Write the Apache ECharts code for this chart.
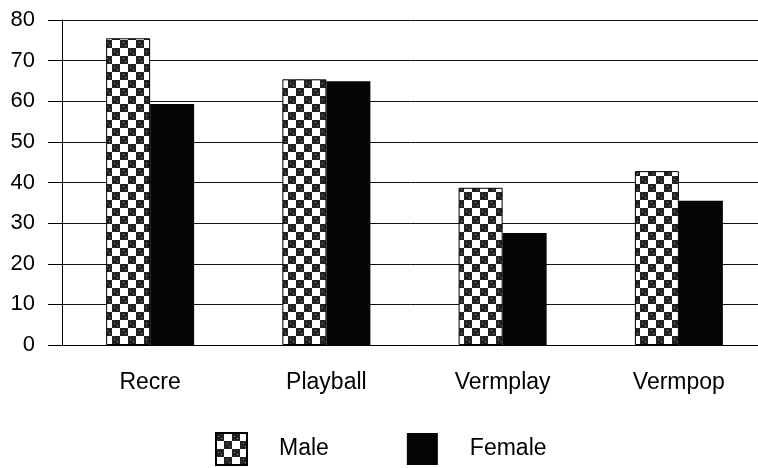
<!DOCTYPE html>
<html>
<head>
<meta charset="utf-8">
<script src="https://cdn.jsdelivr.net/npm/echarts@6/dist/echarts.min.js"></script>
<style>
html,body{margin:0;padding:0;background:#fff;}
#chart{width:758px;height:468px;}
</style>
</head>
<body>
<div id="chart"></div>
<script>
var categories = ['Recre', 'Playball', 'Vermplay', 'Vermpop'];
var maleValues = [75.5, 65.4, 38.7, 42.8];
var femaleValues = [59.3, 64.9, 27.6, 35.5];
var seriesNames = ['Male', 'Female'];
var yTicks = [0, 10, 20, 30, 40, 50, 60, 70, 80];

// checkerboard pattern
var tile = document.createElement('canvas');
tile.width = 16; tile.height = 16;
var c = tile.getContext('2d');
c.fillStyle = '#ffffff'; c.fillRect(0, 0, 16, 16);
c.fillStyle = '#232323';
c.fillRect(0, 0, 8, 8);
c.fillRect(8, 8, 8, 8);
c.fillStyle = '#8a8a8a';
c.fillRect(2, 3, 1, 1); c.fillRect(5, 5, 1, 1); c.fillRect(11, 10, 1, 1); c.fillRect(13, 13, 1, 1);
var pattern = { image: tile, repeat: 'repeat' };

var font = 'Liberation Sans, Arial, sans-serif';
var chart = echarts.init(document.getElementById('chart'), null, { renderer: 'canvas' });
chart.setOption({
  animation: false,
  backgroundColor: '#ffffff',
  grid: { left: 62, top: 20, width: 705, height: 325, containLabel: false, outerBoundsMode: 'none' },
  legend: {
    data: seriesNames,
    left: 215, top: 432,
    padding: 0,
    itemWidth: 31, itemHeight: 32,
    itemGap: 78,
    icon: 'rect',
    textStyle: { fontFamily: font, fontSize: 23, color: '#000', padding: [0, 0, 0, 27] }
  },
  xAxis: {
    type: 'category',
    data: categories,
    axisLine: { lineStyle: { color: '#000', width: 1 } },
    axisTick: { alignWithLabel: true, length: 15, lineStyle: { color: '#000' } },
    axisLabel: { fontFamily: font, fontSize: 23, color: '#000', margin: 26 },
    splitLine: { show: false }
  },
  yAxis: {
    type: 'value',
    min: yTicks[0], max: yTicks[yTicks.length - 1], interval: 10,
    axisLine: { show: true, lineStyle: { color: '#000', width: 1 } },
    axisTick: { show: true, length: 14, lineStyle: { color: '#000' } },
    axisLabel: { fontFamily: font, fontSize: 22, color: '#000', margin: 27 },
    splitLine: { show: true, lineStyle: { color: '#111', width: 1 } }
  },
  series: [
    {
      name: seriesNames[0], type: 'bar', data: maleValues,
      barWidth: 44, barGap: '0%',
      itemStyle: { color: pattern, borderColor: '#000', borderWidth: 1 }
    },
    {
      name: seriesNames[1], type: 'bar', data: femaleValues,
      barWidth: 44, barGap: '0%',
      itemStyle: { color: '#050505' }
    }
  ]
});
</script>
</body>
</html>
